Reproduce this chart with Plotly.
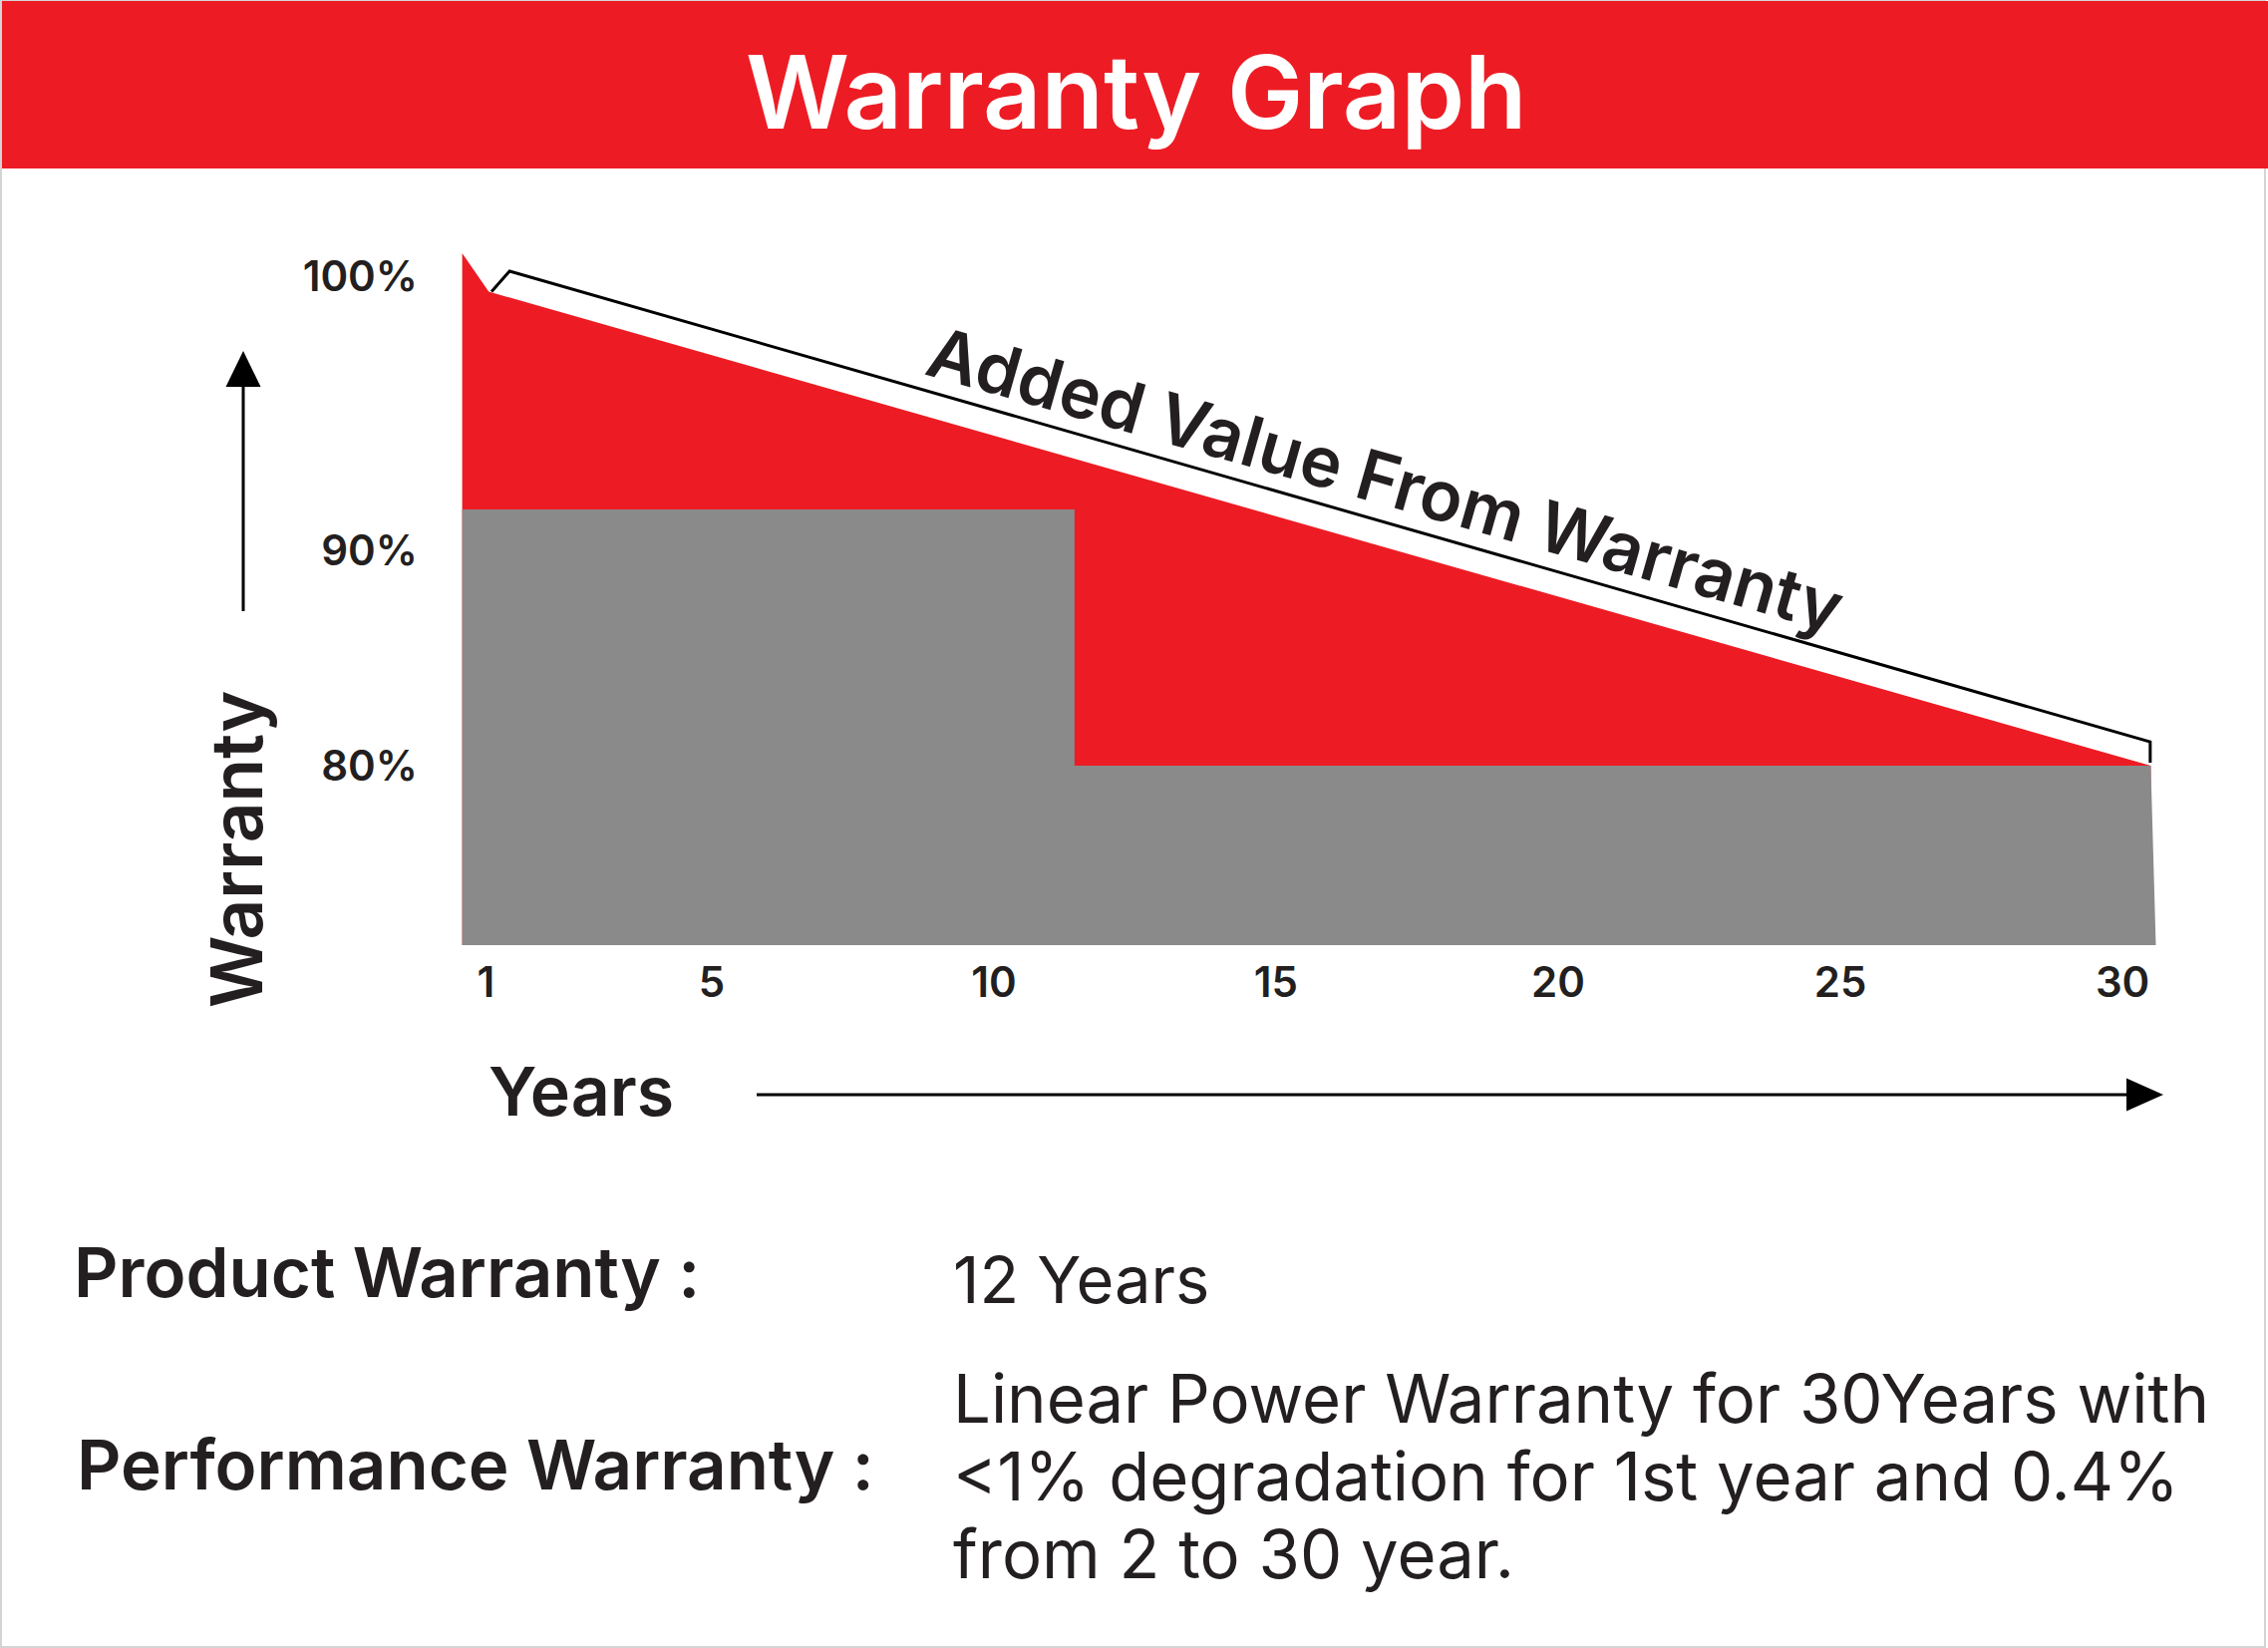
import plotly.graph_objects as go

# canvas size (same as the reference picture)
W, H = 2275, 1653


def px(x):
    return x / W


def py(y):
    return 1 - y / H


# --- data ---
# red area: linear performance warranty (top edge)
red_years = [0.58, 1.05, 30.5, 30.5, 0.58]
red_pct = [100, 98.5, 80, 73, 73]

# grey area: step warranty (90% then 80%)
grey_years = [0.58, 0.58, 11.43, 11.43, 30.5, 30.59, 0.58]
grey_pct = [73, 90, 90, 80, 80, 73, 73]

# black bracket line above the red area
bracket_years = [1.10, 1.42, 30.49, 30.49]
bracket_pct = [98.5, 99.3, 80.93, 80.12]

year_ticks = [1, 5, 10, 15, 20, 25, 30]
year_labels = ["1", "5", "10", "15", "20", "25", "30"]

# where the percent labels sit on the artwork
pct_tick_pos = [99.1, 88.4, 80]
pct_labels = ["100%", "90%", "80%"]

RED = "#ED1C24"
GREY = "#8A8A8A"
INK = "#231F20"
FONT = "Inter"

fig = go.Figure()

fig.add_trace(go.Scatter(
    x=red_years, y=red_pct, mode="lines", fill="toself",
    fillcolor=RED, line=dict(width=0), hoverinfo="skip",
))
fig.add_trace(go.Scatter(
    x=grey_years, y=grey_pct, mode="lines", fill="toself",
    fillcolor=GREY, line=dict(width=0), hoverinfo="skip",
))
fig.add_trace(go.Scatter(
    x=bracket_years, y=bracket_pct, mode="lines",
    line=dict(color="black", width=3), hoverinfo="skip",
))

shapes = [
    # thin card border
    dict(type="rect", xref="paper", yref="paper",
         x0=px(1), x1=px(2272), y0=py(1652), y1=py(1),
         line=dict(color="#d4d4d4", width=2), fillcolor="rgba(0,0,0,0)"),
    # red header band
    dict(type="rect", xref="paper", yref="paper",
         x0=px(2), x1=px(2275), y0=py(169), y1=py(1),
         line=dict(width=0), fillcolor=RED),
    # up arrow
    dict(type="line", xref="paper", yref="paper",
         x0=px(244), x1=px(244), y0=py(613), y1=py(386),
         line=dict(color="black", width=3)),
    dict(type="path", xref="paper", yref="paper",
         path=f"M {px(226.5)} {py(388)} L {px(261.5)} {py(388)} L {px(244)} {py(352)} Z",
         line=dict(width=0), fillcolor="black"),
    # right arrow
    dict(type="line", xref="paper", yref="paper",
         x0=px(759), x1=px(2135), y0=py(1098), y1=py(1098),
         line=dict(color="black", width=3)),
    dict(type="path", xref="paper", yref="paper",
         path=f"M {px(2133)} {py(1081.5)} L {px(2133)} {py(1114.5)} L {px(2170)} {py(1098)} Z",
         line=dict(width=0), fillcolor="black"),
]

annotations = [
    dict(text="Warranty Graph", x=px(1140), y=py(92), xref="paper", yref="paper",
         xanchor="center", yanchor="middle", showarrow=False,
         font=dict(family=FONT, size=102, color="white", weight=600)),
    dict(text="Added Value From Warranty", x=16.94, y=91.2, xref="x", yref="y",
         xanchor="center", yanchor="middle", showarrow=False, textangle=15.9,
         font=dict(family=FONT, size=70, color=INK, weight=600)),
    dict(text="Warranty", x=px(237), y=py(852), xref="paper", yref="paper",
         xanchor="center", yanchor="middle", showarrow=False, textangle=-90,
         font=dict(family=FONT, size=71, color=INK, weight=600)),
    dict(text="Years", x=px(488), y=py(1094), xref="paper", yref="paper",
         xanchor="left", yanchor="middle", showarrow=False,
         font=dict(family=FONT, size=68, color=INK, weight=600)),
    dict(text="Product Warranty :", x=px(72), y=py(1276), xref="paper", yref="paper",
         xanchor="left", yanchor="middle", showarrow=False,
         font=dict(family=FONT, size=69, color=INK, weight=600)),
    dict(text="Performance Warranty :", x=px(75), y=py(1469), xref="paper", yref="paper",
         xanchor="left", yanchor="middle", showarrow=False,
         font=dict(family=FONT, size=69, color=INK, weight=600)),
    dict(text="12 Years", x=px(954), y=py(1283), xref="paper", yref="paper",
         xanchor="left", yanchor="middle", showarrow=False,
         font=dict(family=FONT, size=65, color=INK)),
]

perf_lines = [
    "Linear Power Warranty for 30Years with",
    "&lt;1% degradation for 1st year and 0.4%",
    "from 2 to 30 year.",
]
for i, line in enumerate(perf_lines):
    annotations.append(dict(
        text=line, x=px(954), y=py(1402.5 + 78 * i), xref="paper", yref="paper",
        xanchor="left", yanchor="middle", showarrow=False,
        font=dict(family=FONT, size=67, color=INK)))

fig.update_layout(
    width=W, height=H,
    margin=dict(l=0, r=0, t=0, b=0),
    paper_bgcolor="white", plot_bgcolor="white",
    showlegend=False,
    shapes=shapes,
    annotations=annotations,
    xaxis=dict(
        domain=[px(440), px(2200)], range=[0.1627, 31.2524],
        showgrid=False, zeroline=False, showline=False, ticks="",
        tickvals=year_ticks, ticktext=year_labels, ticklabelstandoff=8,
        tickfont=dict(family=FONT, size=42, color=INK, weight=600),
        fixedrange=True,
    ),
    yaxis=dict(
        domain=[py(949), py(200)], range=[72.957, 102.101],
        showgrid=False, zeroline=False, showline=False, ticks="",
        tickvals=pct_tick_pos, ticktext=pct_labels, ticklabelstandoff=20,
        tickfont=dict(family=FONT, size=42, color=INK, weight=600),
        fixedrange=True,
    ),
)

fig.write_html("out.html", config={"displayModeBar": False},
               post_script="document.body.style.margin='0';")
